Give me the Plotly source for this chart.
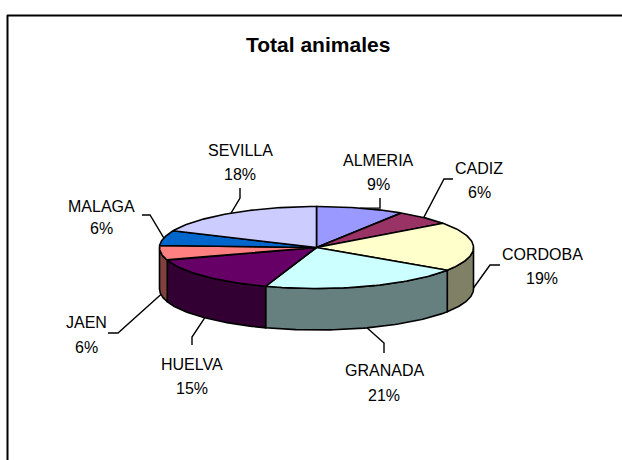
import math
import plotly.graph_objects as go

# --- data ---
regions = ["ALMERIA", "CADIZ", "CORDOBA", "GRANADA", "HUELVA", "JAEN", "MALAGA", "SEVILLA"]
shares = [9.0, 5.9, 19.4, 20.9, 14.7, 5.8, 5.9, 18.3]
top_colors = ["#9999FF", "#993366", "#FFFFCC", "#CCFFFF", "#660066", "#FF8080", "#0066CC", "#CCCCFF"]
side_colors = ["#4D4D80", "#4D1A33", "#808066", "#668080", "#330033", "#804040", "#003366", "#666680"]
title_text = "Total animales"

# --- layout of the tilted pie (page pixels) ---
CX, CY, RX, RY, DEPTH = 316.5, 247.5, 157, 41, 41.5
W, H = 622, 460
LABEL_FONT = dict(family="Liberation Sans, Arial, sans-serif", size=16, color="#000000")
# label centre x, first-line y, second-line y, and the leader's free end + elbow
label_layout = {
    "ALMERIA": (378, 160, 184, (380, 198), (380, 208)),
    "CADIZ": (479, 168, 192, (453, 179), (444, 179)),
    "CORDOBA": (542, 254, 278, (500, 265), (490, 265)),
    "GRANADA": (384, 370, 395, (384, 353), (384, 343)),
    "HUELVA": (192, 364, 388, (192, 345), (192, 337)),
    "JAEN": (86, 322, 347, (108, 333), (118, 333)),
    "MALAGA": (101, 206, 228, (142, 215), (150, 215)),
    "SEVILLA": (240, 150, 174, (240, 188), (240, 198)),
}


def rim(t_deg, drop=0.0):
    t = math.radians(t_deg)
    return CX + RX * math.sin(t), CY - RY * math.cos(t) + drop


def arc(a, b, drop=0.0, n=60):
    return [rim(a + (b - a) * i / n, drop) for i in range(n + 1)]


total = sum(shares)
edges = [0.0]
for s in shares:
    edges.append(edges[-1] + 360.0 * s / total)

fig = go.Figure()
LINE = dict(color="#000000", width=1.6)


def poly(points, fill):
    fig.add_trace(go.Scatter(
        x=[p[0] for p in points], y=[p[1] for p in points], mode="lines",
        fill="toself", fillcolor=fill, line=LINE, hoverinfo="skip", showlegend=False))


# side walls of the slices on the near half of the rim
for i in range(len(regions)):
    a, b = max(edges[i], 90.0), min(edges[i + 1], 270.0)
    if b > a:
        top = arc(a, b)
        bottom = arc(b, a, DEPTH)
        poly(top + bottom + [top[0]], side_colors[i])

# top faces
for i in range(len(regions)):
    pts = [(CX, CY)] + arc(edges[i], edges[i + 1]) + [(CX, CY)]
    poly(pts, top_colors[i])

# leader lines and labels
annotations = [dict(x=318, y=44, xref="x", yref="y", text=f"<b>{title_text}</b>", showarrow=False,
                    font=dict(family=LABEL_FONT["family"], size=21, color="#000000"))]
for i, name in enumerate(regions):
    lx, y1, y2, free, elbow = label_layout[name]
    mid = (edges[i] + edges[i + 1]) / 2
    anchor = rim(mid, DEPTH if 85 < mid < 275 else 0.0)
    xs = [free[0], elbow[0], anchor[0]]
    ys = [free[1], elbow[1], anchor[1]]
    fig.add_trace(go.Scatter(x=xs, y=ys, mode="lines", line=dict(color="#000000", width=1.4),
                             hoverinfo="skip", showlegend=False))
    pct = round(100 * shares[i] / total)
    annotations.append(dict(x=lx, y=y1, xref="x", yref="y", text=name, showarrow=False, font=LABEL_FONT))
    annotations.append(dict(x=lx, y=y2, xref="x", yref="y", text=f"{pct}%", showarrow=False, font=LABEL_FONT))

fig.update_layout(
    width=W, height=H, margin=dict(l=0, r=0, t=0, b=0), autosize=False,
    paper_bgcolor="#FFFFFF", plot_bgcolor="#FFFFFF", showlegend=False,
    xaxis=dict(range=[0, W], visible=False, fixedrange=True),
    yaxis=dict(range=[H, 0], visible=False, fixedrange=True),
    annotations=annotations,
    shapes=[dict(type="line", x0=7, y0=15.5, x1=W, y1=15.5, xref="x", yref="y", line=dict(color="#000000", width=2)),
            dict(type="line", x0=7.5, y0=15, x1=7.5, y1=H, xref="x", yref="y", line=dict(color="#000000", width=2))],
)

fig.write_html("out.html", config={"displayModeBar": False},
               post_script="document.body.style.margin='0';")
